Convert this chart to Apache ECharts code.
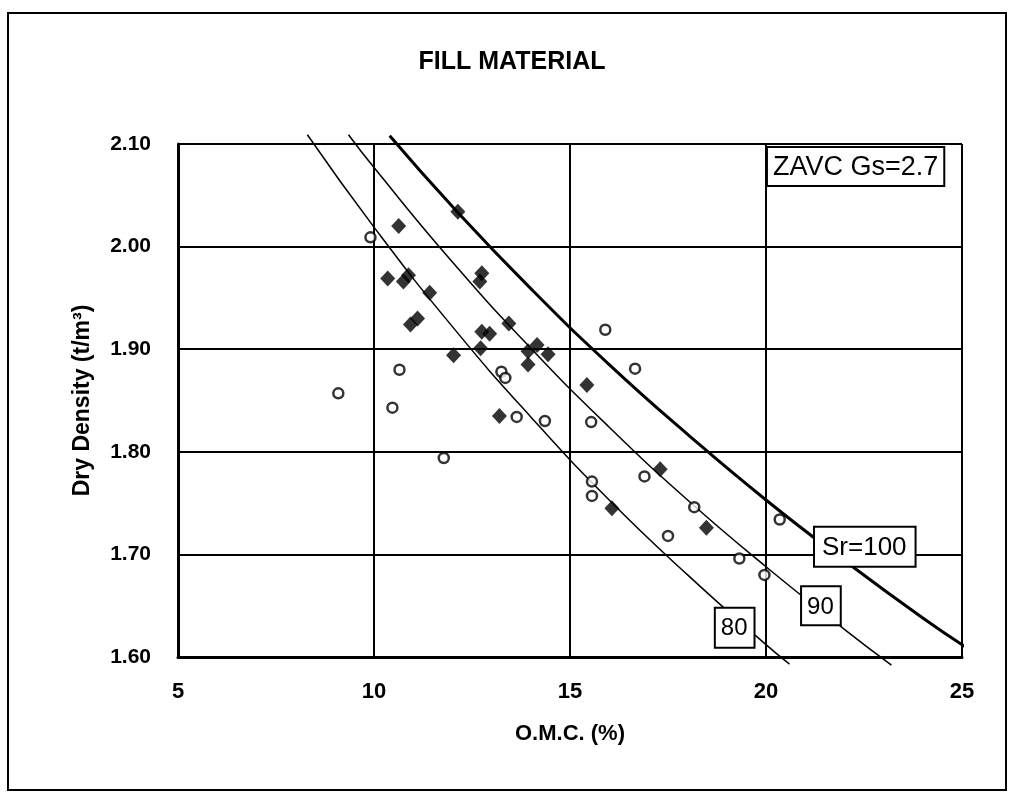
<!DOCTYPE html>
<html>
<head>
<meta charset="utf-8">
<title>FILL MATERIAL</title>
<script src="https://cdn.jsdelivr.net/npm/echarts@6/dist/echarts.min.js"></script>
<style>
  html, body { margin: 0; padding: 0; background: #fff; }
  #chart { width: 1014px; height: 804px; }
</style>
</head>
<body>
<div id="chart"></div>
<script>
var X_TICKS = [5, 10, 15, 20, 25];
var Y_TICKS = [1.6, 1.7, 1.8, 1.9, 2.0, 2.1];

// filled diamonds [OMC %, dry density]
var filledPoints = [
  [10.63, 2.020], [12.14, 2.034], [10.35, 1.969], [10.88, 1.972],
  [10.75, 1.966], [11.42, 1.955], [11.11, 1.930], [10.93, 1.924],
  [12.03, 1.894], [12.75, 1.974], [12.70, 1.966], [13.44, 1.925],
  [12.75, 1.917], [12.95, 1.915], [12.72, 1.901], [14.16, 1.904],
  [13.93, 1.898], [14.44, 1.895], [13.93, 1.885], [13.20, 1.835],
  [15.43, 1.865], [16.07, 1.745], [17.30, 1.783], [18.48, 1.726]
];

// open circles
var openPoints = [
  [9.09, 1.857], [9.91, 2.009], [10.65, 1.880], [10.47, 1.843],
  [11.78, 1.794], [13.25, 1.878], [13.35, 1.872], [13.64, 1.834],
  [14.36, 1.830], [15.54, 1.829], [15.90, 1.919], [16.66, 1.881],
  [15.56, 1.771], [15.56, 1.757], [16.90, 1.776], [17.50, 1.718],
  [18.17, 1.746], [19.32, 1.696], [19.96, 1.680], [20.35, 1.734]
];

// zero air void curves
var sr100Curve = [
  [10.4, 2.108], [12, 2.039], [14, 1.959], [16, 1.885], [18, 1.817],
  [20, 1.753], [22, 1.694], [24, 1.638], [25.2, 1.607]
];
var sr90Curve = [
  [9.35, 2.109], [10, 2.077], [12, 1.985], [14, 1.901], [16, 1.824],
  [18, 1.753], [20, 1.688], [22, 1.627], [23.2, 1.592]
];
var sr80Curve = [
  [8.3, 2.109], [10, 2.019], [12, 1.922], [14, 1.834], [16, 1.753],
  [18, 1.680], [20, 1.612], [20.6, 1.593]
];

var FONT = '"Liberation Sans", Arial, sans-serif';

var chart = echarts.init(document.getElementById('chart'));

function curveSeries(name, data, width) {
  return {
    name: name,
    type: 'line',
    data: data,
    smooth: true,
    showSymbol: false,
    clip: false,
    silent: true,
    z: 1,
    lineStyle: { color: '#000', width: width }
  };
}

var option = {
  backgroundColor: '#fff',
  animation: false,
  title: {
    text: 'FILL MATERIAL',
    left: 507,
    top: 45,
    textAlign: 'center',
    textStyle: { fontFamily: FONT, fontSize: 25, fontWeight: 'bold', color: '#000' }
  },
  grid: { left: 178, right: 52, top: 144, bottom: 147, containLabel: false },
  xAxis: {
    type: 'value',
    min: X_TICKS[0],
    max: X_TICKS[X_TICKS.length - 1],
    interval: 5,
    name: 'O.M.C. (%)',
    nameLocation: 'middle',
    nameGap: 66,
    nameTextStyle: { fontFamily: FONT, fontSize: 22, fontWeight: 'bold', color: '#000' },
    axisLine: { lineStyle: { color: '#000', width: 3 } },
    axisTick: { show: false },
    axisLabel: { margin: 24, fontFamily: FONT, fontSize: 22, fontWeight: 'bold', color: '#000' },
    splitLine: { lineStyle: { color: '#000', width: 2 } }
  },
  yAxis: {
    type: 'value',
    min: Y_TICKS[0],
    max: Y_TICKS[Y_TICKS.length - 1],
    interval: 0.1,
    name: 'Dry Density (t/m³)',
    nameLocation: 'middle',
    nameGap: 84,
    nameTextStyle: { fontFamily: FONT, fontSize: 23, fontWeight: 'bold', color: '#000' },
    axisLine: { lineStyle: { color: '#000', width: 3 } },
    axisTick: { show: false },
    axisLabel: {
      margin: 27,
      fontFamily: FONT,
      fontSize: 21,
      fontWeight: 'bold',
      color: '#000',
      formatter: function (v) { return v.toFixed(2); }
    },
    splitLine: { lineStyle: { color: '#000', width: 2 } }
  },
  series: [
    curveSeries('Sr=100', sr100Curve, 3),
    curveSeries('Sr=90', sr90Curve, 1.5),
    curveSeries('Sr=80', sr80Curve, 1.5),
    {
      name: 'filled',
      type: 'scatter',
      data: filledPoints,
      symbol: 'diamond',
      symbolSize: [15, 16],
      z: 3,
      itemStyle: { color: '#000' }
    },
    {
      name: 'open',
      type: 'scatter',
      data: openPoints,
      symbol: 'circle',
      symbolSize: 10,
      z: 3,
      itemStyle: { color: '#fff', borderColor: '#000', borderWidth: 2.5 }
    }
  ]
};

chart.setOption(option);

// label boxes placed in data space
function boxLabel(text, at, size, pad) {
  var p = chart.convertToPixel({ gridIndex: 0 }, at);
  return {
    type: 'text',
    x: p[0],
    y: p[1],
    z: 10,
    style: {
      text: text,
      fontFamily: FONT,
      fontSize: size,
      fill: '#000',
      backgroundColor: '#fff',
      borderColor: '#000',
      borderWidth: 2,
      padding: pad,
      align: 'left',
      verticalAlign: 'top'
    }
  };
}

chart.setOption({
  graphic: [
    {
      type: 'rect',
      shape: { x: 8, y: 13, width: 998, height: 777 },
      style: { fill: 'none', stroke: '#000', lineWidth: 2 },
      silent: true
    },
    boxLabel('ZAVC Gs=2.7', [20.05, 2.096], 27, [6, 5, 4, 5]),
    boxLabel('Sr=100', [21.25, 1.726], 26, [7, 8, 5, 7]),
    boxLabel('90', [20.92, 1.668], 24, [8, 6, 5, 5]),
    boxLabel('80', [18.72, 1.647], 24, [8, 6, 6, 5])
  ]
});
</script>
</body>
</html>
